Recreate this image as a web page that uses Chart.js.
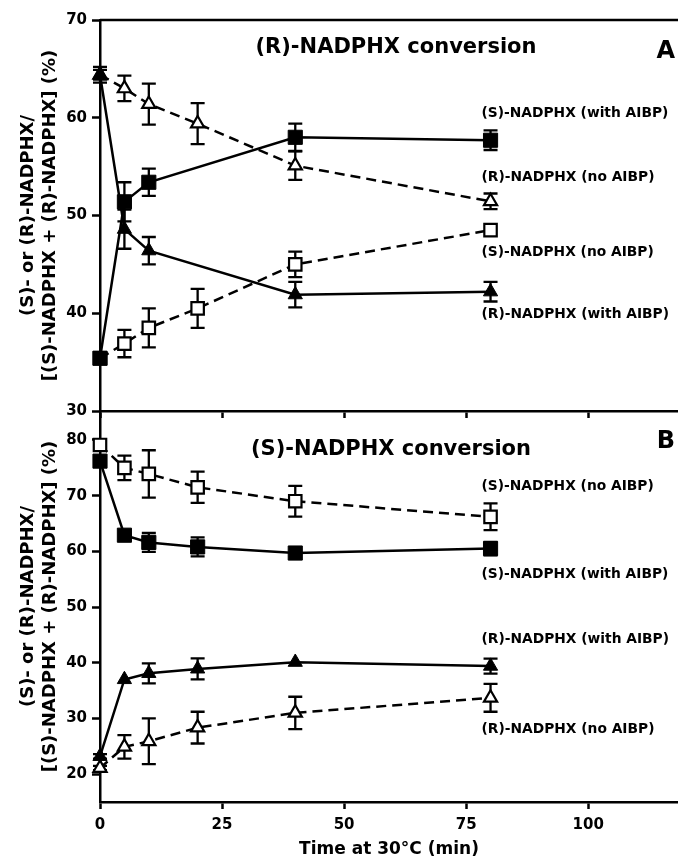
<!DOCTYPE html>
<html>
<head>
<meta charset="utf-8">
<script src="https://cdn.jsdelivr.net/npm/chart.js@4.4.0/dist/chart.umd.min.js"></script>
<style>
  html, body { margin: 0; padding: 0; background: #fff; }
  #wrap { position: relative; width: 678px; height: 862px; }
  canvas { position: absolute; left: 0; top: 0; }
</style>
</head>
<body>
<div id="wrap">
  <canvas id="chartA" width="678" height="862"></canvas>
  <canvas id="chartB" width="678" height="862"></canvas>
</div>
<script>
const times = [0, 5, 10, 20, 40, 80];
const xTicks = [0, 25, 50, 75, 100];
const yTicksA = [30, 40, 50, 60, 70];
const yTicksB = [20, 30, 40, 50, 60, 70, 80];

// panel A: (R)-NADPHX conversion
const aSWith = [35.4, 51.4, 53.4, null, 58.0, 57.7];
const aSWithErr = [0.3, 2.0, 1.4, null, 1.4, 1.0];
const aRWith = [64.4, 48.6, 46.4, null, 41.9, 42.2];
const aRWithErr = [0.8, 2.0, 1.4, null, 1.3, 1.0];
const aRNo = [64.4, 63.0, 61.4, 59.4, 55.1, 51.45];
const aRNoErr = [0.5, 1.3, 2.1, 2.1, 1.45, 0.8];
const aSNo = [35.4, 36.9, 38.5, 40.5, 45.0, 48.5];
const aSNoErr = [0.3, 1.4, 2.0, 2.0, 1.3, 0];

// panel B: (S)-NADPHX conversion
const bSWith = [76.2, 62.9, 61.6, 60.8, 59.7, 60.5];
const bSWithErr = [0.5, 0, 1.7, 1.7, 0, 1.2];
const bRWith = [23.2, 37.0, 38.1, 38.9, 40.1, 39.4];
const bRWithErr = [0.4, 0, 1.8, 1.9, 0, 1.35];
const bRNo = [21.1, 24.9, 25.9, 28.35, 31.0, 33.7];
const bRNoErr = [0.4, 2.1, 4.1, 2.85, 2.9, 2.5];
const bSNo = [79.1, 75.0, 73.9, 71.5, 69.0, 66.2];
const bSNoErr = [0.3, 2.2, 4.25, 2.8, 2.75, 2.4];

const FONT = '"DejaVu Sans", sans-serif';

function pts(vals) {
  return times.map((t, i) => vals[i] == null ? null : { x: t, y: vals[i] }).filter(Boolean);
}
function errs(vals, e) {
  return e.filter((v, i) => vals[i] != null);
}

function series(vals, e, kind) {
  const filled = kind === 'filledSq' || kind === 'filledTri';
  const sq = kind === 'filledSq' || kind === 'openSq';
  return {
    data: pts(vals),
    err: errs(vals, e),
    borderColor: '#000',
    borderWidth: 2.5,
    borderDash: filled ? [] : [10, 6],
    tension: 0,
    pointStyle: sq ? 'rect' : 'triangle',
    pointRadius: sq ? (filled ? 10 : 8.8) : (filled ? 8.2 : 7.6),
    pointBackgroundColor: filled ? '#000' : '#fff',
    pointBorderColor: '#000',
    pointBorderWidth: filled ? 1 : 2.2,
    clip: false
  };
}

const errorBars = {
  id: 'errorBars',
  beforeDatasetsDraw(chart) {
    const { ctx, scales: { x, y } } = chart;
    ctx.save();
    ctx.strokeStyle = '#000';
    ctx.lineWidth = 2.3;
    chart.data.datasets.forEach(ds => {
      ds.data.forEach((p, i) => {
        const e = ds.err[i];
        if (!e) return;
        const px = x.getPixelForValue(p.x);
        const top = y.getPixelForValue(p.y + e);
        const bot = y.getPixelForValue(p.y - e);
        ctx.beginPath();
        ctx.moveTo(px, top); ctx.lineTo(px, bot);
        ctx.moveTo(px - 7, top); ctx.lineTo(px + 7, top);
        ctx.moveTo(px - 7, bot); ctx.lineTo(px + 7, bot);
        ctx.stroke();
      });
    });
    ctx.restore();
  }
};

const annot = {
  id: 'annot',
  afterDraw(chart, args, opts) {
    const { ctx, chartArea: a, scales: { x, y } } = chart;
    ctx.save();
    ctx.fillStyle = '#000';
    if (opts.topLine) {
      ctx.strokeStyle = '#000';
      ctx.lineWidth = 2.5;
      ctx.beginPath();
      ctx.moveTo(a.left, a.top);
      ctx.lineTo(a.right, a.top);
      ctx.stroke();
    }
    ctx.textBaseline = 'middle';
    ctx.textAlign = 'center';
    ctx.font = 'bold 21px ' + FONT;
    ctx.fillText(opts.title, (a.left + a.right) / 2 + opts.titleDx, a.top + opts.titleDy);
    ctx.textAlign = 'right';
    ctx.font = 'bold 24px ' + FONT;
    ctx.fillText(opts.letter, a.right - 3, a.top + opts.letterDy);
    ctx.textAlign = 'left';
    ctx.font = 'bold 13.8px ' + FONT;
    opts.notes.forEach(n => {
      const ds = chart.data.datasets[n.ds];
      const p = ds.data[ds.data.length - 1];
      ctx.fillText(n.text, x.getPixelForValue(p.x) - 9, y.getPixelForValue(p.y) + n.dy);
    });
    ctx.restore();
  }
};

function makeChart(id, sets, yTicks, yMin, yMax, padTop, xHeight, showX, notesOpts) {
  const tickFont = { family: FONT, size: 15, weight: 'bold' };
  return new Chart(document.getElementById(id), {
    type: 'line',
    data: { datasets: sets },
    options: {
      responsive: false,
      animation: false,
      devicePixelRatio: 1,
      layout: { autoPadding: false, padding: { top: padTop, left: 0, right: 0, bottom: 0 } },
      plugins: { legend: { display: false }, tooltip: { enabled: false }, annot: notesOpts },
      scales: {
        x: {
          type: 'linear', min: 0, max: 118.4,
          afterBuildTicks: s => { s.ticks = xTicks.map(v => ({ value: v })); },
          afterFit: s => { s.height = xHeight; s.paddingLeft = 0; s.paddingRight = 0; },
          border: { color: '#000', width: 2.5 },
          grid: { drawOnChartArea: false, drawTicks: true, tickLength: 7, tickWidth: 2.5, tickColor: '#000' },
          ticks: { display: showX, color: '#000', padding: 7, font: tickFont },
          title: {
            display: showX, text: 'Time at 30°C (min)', color: '#000',
            font: { family: FONT, size: 17, weight: 'bold' }, padding: { top: 0, bottom: 2 }
          }
        },
        y: {
          type: 'linear', min: yMin, max: yMax,
          afterBuildTicks: s => { s.ticks = yTicks.map(v => ({ value: v })); },
          afterFit: s => { s.width = 100; s.paddingTop = 0; s.paddingBottom = 0; },
          border: { color: '#000', width: 2.5 },
          grid: { drawOnChartArea: false, drawTicks: true, tickLength: 8, tickWidth: 2.5, tickColor: '#000' },
          ticks: { color: '#000', padding: 5, font: tickFont },
          title: {
            display: true, color: '#000',
            text: ['(S)- or (R)-NADPHX/', '[(S)-NADPHX + (R)-NADPHX] (%)'],
            font: { family: FONT, size: 18, weight: 'bold', lineHeight: 1.22 },
            padding: { top: 17, bottom: 0 }
          }
        }
      }
    },
    plugins: [errorBars, annot]
  });
}

makeChart('chartA', [
  series(aSWith, aSWithErr, 'filledSq'),
  series(aRWith, aRWithErr, 'filledTri'),
  series(aRNo, aRNoErr, 'openTri'),
  series(aSNo, aSNoErr, 'openSq')
], yTicksA, 30, 70, 20, 451, false, {
  topLine: true,
  title: '(R)-NADPHX conversion', titleDx: 7, titleDy: 27.5,
  letter: 'A', letterDy: 31.5,
  notes: [
    { text: '(S)-NADPHX (with AIBP)', ds: 0, dy: -27 },
    { text: '(R)-NADPHX (no AIBP)', ds: 2, dy: -24 },
    { text: '(S)-NADPHX (no AIBP)', ds: 3, dy: 22 },
    { text: '(R)-NADPHX (with AIBP)', ds: 1, dy: 23 }
  ]
});

makeChart('chartB', [
  series(bSWith, bSWithErr, 'filledSq'),
  series(bRWith, bRWithErr, 'filledTri'),
  series(bRNo, bRNoErr, 'openTri'),
  series(bSNo, bSNoErr, 'openSq')
], yTicksB, 15, 85.2, 411, 60, true, {
  topLine: false,
  title: '(S)-NADPHX conversion', titleDx: 2, titleDy: 38.5,
  letter: 'B', letterDy: 31,
  notes: [
    { text: '(S)-NADPHX (no AIBP)', ds: 3, dy: -30 },
    { text: '(S)-NADPHX (with AIBP)', ds: 0, dy: 26 },
    { text: '(R)-NADPHX (with AIBP)', ds: 1, dy: -27 },
    { text: '(R)-NADPHX (no AIBP)', ds: 2, dy: 32 }
  ]
});
</script>
</body>
</html>
